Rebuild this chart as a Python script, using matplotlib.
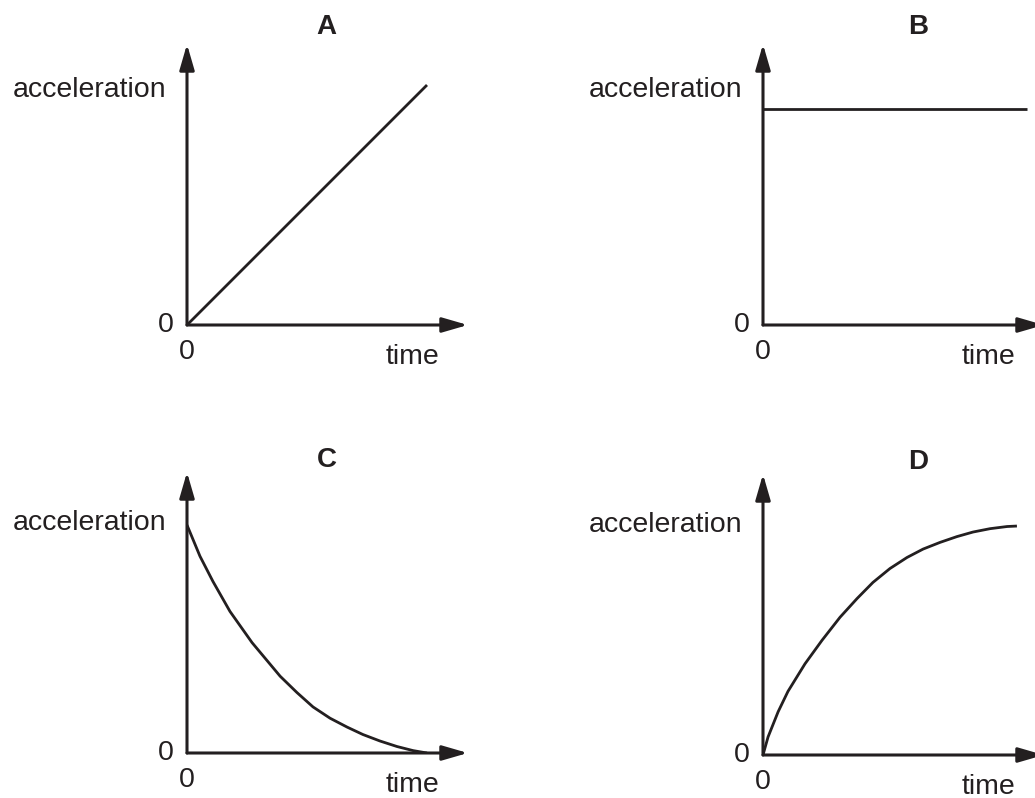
import matplotlib
matplotlib.use('Agg')
import matplotlib.pyplot as plt

plt.rcParams['font.family'] = ['Liberation Sans', 'DejaVu Sans']

INK = '#231f20'
PX = 240.0  # pixels per data unit inside each panel

# panel letters and curves (time, acceleration)
panels = ['A', 'B', 'C', 'D']

time_a = [0.0, 1.0]
acc_a = [0.0, 1.0]

time_b = [0.0, 1.1]
acc_b = [0.9, 0.9]

time_c = [0.0, 0.054, 0.108, 0.179, 0.271, 0.388, 0.458, 0.525, 0.596,
          0.667, 0.733, 0.804, 0.875, 0.942, 1.0]
acc_c = [0.95, 0.82, 0.715, 0.59, 0.46, 0.32, 0.252, 0.192, 0.145,
         0.108, 0.077, 0.050, 0.027, 0.010, 0.0]

time_d = [0.0, 0.021, 0.063, 0.104, 0.175, 0.246, 0.321, 0.392, 0.458,
          0.529, 0.6, 0.667, 0.738, 0.808, 0.875, 0.946, 1.017, 1.058]
acc_d = [0.0, 0.075, 0.18, 0.265, 0.38, 0.478, 0.574, 0.652, 0.719,
         0.777, 0.823, 0.858, 0.886, 0.910, 0.929, 0.943, 0.952, 0.954]

curves = [(time_a, acc_a), (time_b, acc_b), (time_c, acc_c), (time_d, acc_d)]

# panel origins in pixels (x from left, y from top)
origins = [(187, 325), (763, 325), (187, 753), (763, 755)]
title_pos = [(0.58, 1.24), (0.646, 1.24), (0.583, 1.22), (0.646, 1.22)]
ylabel_y = [0.98, 0.98, 0.96, 0.96]

W, H = 1035, 798
fig = plt.figure(figsize=(W / 100, H / 100), dpi=100)
fig.patch.set_facecolor('white')

for name, (t, a), (ox, oy), (tx, ty), ly in zip(panels, curves, origins,
                                                  title_pos, ylabel_y):
    ax = fig.add_axes([ox / W, (H - oy) / H, 1.2 * PX / W, 1.2 * PX / H])
    ax.set_xlim(0, 1.2)
    ax.set_ylim(0, 1.2)
    ax.axis('off')

    arrow = dict(arrowstyle='-|>,head_length=1.55,head_width=0.45',
                 mutation_scale=10, lw=2.2, color=INK,
                 shrinkA=0, shrinkB=0)
    ax.annotate('', xy=(1.17, 0), xytext=(0, 0), arrowprops=arrow,
                annotation_clip=False)
    ax.annotate('', xy=(0, 1.17), xytext=(0, 0), arrowprops=arrow,
                annotation_clip=False)

    ax.plot(t, a, color=INK, lw=2.0, solid_capstyle='butt',
            solid_joinstyle='round')

    ax.text(tx, ty, name, fontsize=20, fontweight='bold', color=INK,
            ha='center', va='center')
    ax.text(-0.0875, ly, 'acceleration', fontsize=20.5, color=INK,
            ha='right', va='center')
    ax.text(-0.054, 0, '0', fontsize=20.5, color=INK, ha='right', va='center')
    ax.text(0, -0.1125, '0', fontsize=20.5, color=INK, ha='center', va='center')
    ax.text(0.94, -0.133, 'time', fontsize=20.5, color=INK,
            ha='center', va='center')

fig.savefig('out.png', dpi=100, facecolor='white')
